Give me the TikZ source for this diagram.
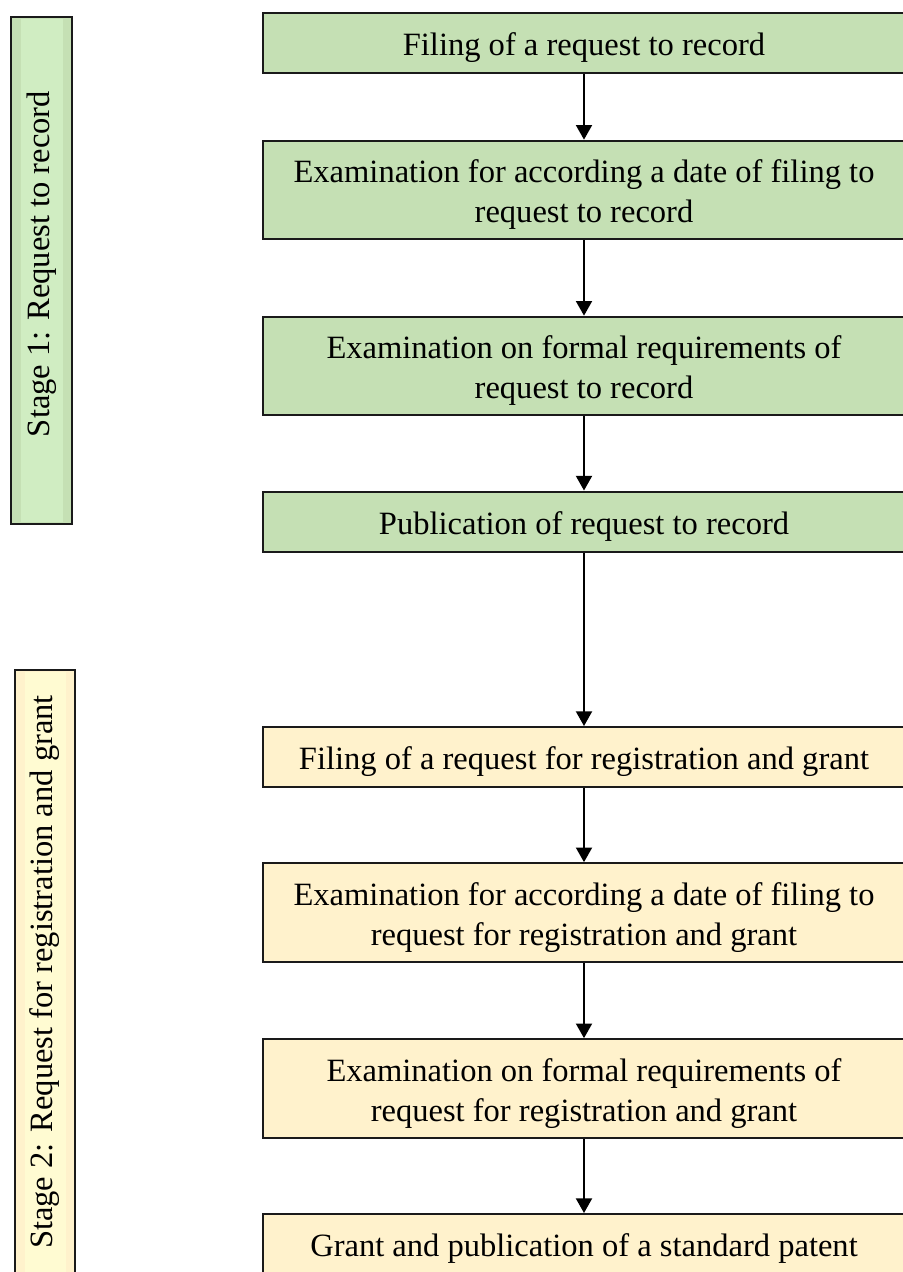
\documentclass[tikz,border=0pt]{standalone}
\usepackage{fontspec}
\setmainfont{Liberation Serif}
\usetikzlibrary{arrows.meta}
\definecolor{stepgreen}{HTML}{C5E0B4}
\definecolor{stepyellow}{HTML}{FFF2CC}
\definecolor{bargreenhi}{HTML}{D0EDC2}
\definecolor{baryellowhi}{HTML}{FFFBD2}
\definecolor{edge}{HTML}{1A1A1A}
% extra room above the first line, so the text sits a little low in its box
\newcommand{\steplift}{\rule{0pt}{24pt}}

\begin{document}
\begin{tikzpicture}[x=0.75pt,y=-0.75pt,
  every node/.style={font=\fontsize{24.4}{30}\selectfont},
  stepbox/.style={draw=edge, line width=1.5pt, minimum width=481.5pt,
    align=center, inner sep=0pt},
  onerow/.style={minimum height=45pt},
  tworow/.style={minimum height=74pt},
  greenstep/.style={stepbox, fill=stepgreen},
  yellowstep/.style={stepbox, fill=stepyellow},
  flow/.style={draw=black, line width=1.5pt, -{Triangle[width=12pt,length=11pt]}},
  barframe/.style={draw=edge, line width=1.5pt}
]
\useasboundingbox (0,0) rectangle (903,1272);
\clip (0,0) rectangle (903,1272);

% stage bars on the left
\path[fill=stepgreen] (11,17) rectangle (72,524);
\path[fill=bargreenhi] (21,19) rectangle (63,522);
\draw[barframe] (11,17) rectangle (72,524);
\node[rotate=90] (stage1) at (42,264) {Stage 1: Request to record};

\path[fill=stepyellow] (15,670) rectangle (75,1290);
\path[fill=baryellowhi] (25,672) rectangle (66,1290);
\draw[barframe] (15,670) rectangle (75,1290);
\node[rotate=90] (stage2) at (45,972) {Stage 2: Request for registration and grant};

% stage 1 steps
\node[greenstep, onerow] (b1) at (584,43) {\steplift Filing of a request to record};
\node[greenstep, tworow] (b2) at (584,190) {\steplift Examination for according a date of filing to\\request to record};
\node[greenstep, tworow] (b3) at (584,366) {\steplift Examination on formal requirements of\\request to record};
\node[greenstep, onerow] (b4) at (584,521.5) {\steplift Publication of request to record};

% stage 2 steps
\node[yellowstep, onerow] (b5) at (584,757) {\steplift Filing of a request for registration and grant};
\node[yellowstep, tworow] (b6) at (584,912.5) {\steplift Examination for according a date of filing to\\request for registration and grant};
\node[yellowstep, tworow] (b7) at (584,1088.5) {\steplift Examination on formal requirements of\\request for registration and grant};
\node[yellowstep, onerow] (b8) at (584,1244) {\steplift Grant and publication of a standard patent};

% connectors
\draw[flow] (b1) -- (b2);
\draw[flow] (b2) -- (b3);
\draw[flow] (b3) -- (b4);
\draw[flow] (b4) -- (b5);
\draw[flow] (b5) -- (b6);
\draw[flow] (b6) -- (b7);
\draw[flow] (b7) -- (b8);
\end{tikzpicture}
\end{document}
